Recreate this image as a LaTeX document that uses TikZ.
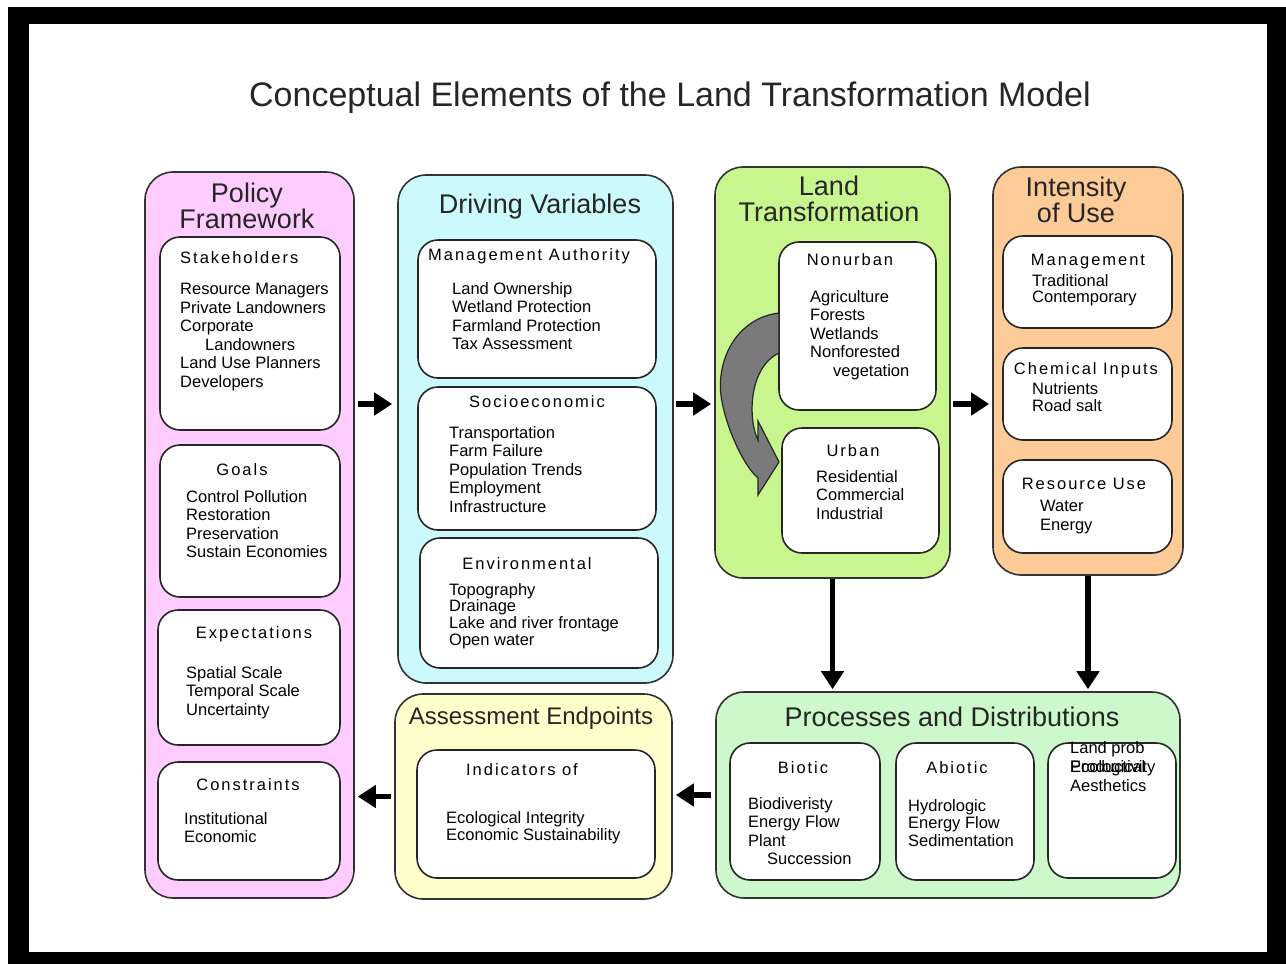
\documentclass[tikz,border=0pt]{standalone}
\usepackage{fontspec}
\setmainfont{Liberation Sans}
\newfontfamily\headfont{Liberation Sans}[LetterSpace=12]
\usetikzlibrary{arrows.meta}
\definecolor{policyfill}{HTML}{FFCCFF}
\definecolor{drivingfill}{HTML}{CCFAFC}
\definecolor{landfill}{HTML}{C8F58E}
\definecolor{intensityfill}{HTML}{FCCB98}
\definecolor{processfill}{HTML}{CCF8CC}
\definecolor{assessfill}{HTML}{FFFFCC}
\definecolor{turngray}{HTML}{7A7A7A}
\begin{document}
\begin{tikzpicture}[x=1pt,y=-1pt,
  outerbox/.style={draw=black!80, line width=1.6pt, rounded corners=28pt, inner sep=0pt},
  innerbox/.style={draw=black!85, fill=white, line width=1.6pt, rounded corners=20pt, inner sep=0pt},
  boxtitle/.style={font=\fontsize{27}{23}\selectfont, text=black!85, align=center, inner sep=0pt},
  head/.style={font=\headfont\fontsize{16.5}{18.5}\selectfont, inner sep=0pt},
  items/.style={font=\fontsize{16.5}{18.6}\selectfont, align=left, anchor=north west, inner sep=0pt},
  flow/.style={line width=5.5pt, -{Triangle[length=18pt,width=22pt]}},
]
% page and black frame
\useasboundingbox (0,0) rectangle (1286,964);
\fill[white] (0,0) rectangle (1286,964);
\fill[black] (8,7) rectangle (1286,964);
\fill[white] (29,24) rectangle (1267,952);

% heading
\node[font=\fontsize{34}{40}\selectfont, text=black!85, inner sep=0pt] (maintitle) at (670,98)
  {Conceptual Elements of the Land Transformation Model};

% outer panels
\node[outerbox, fill=policyfill, minimum width=209, minimum height=726] (pf) at (249.5,535) {};
\node[outerbox, fill=drivingfill, minimum width=275, minimum height=508] (dv) at (535.5,429) {};
\node[outerbox, fill=landfill, minimum width=235, minimum height=411] (lt) at (832.5,372.5) {};
\node[outerbox, fill=intensityfill, minimum width=190, minimum height=408] (iu) at (1088,371) {};
\node[outerbox, fill=processfill, minimum width=464, minimum height=206] (pd) at (948,795) {};
\node[outerbox, fill=assessfill, minimum width=277, minimum height=205] (ae) at (533.5,796.5) {};

% panel titles
\node[boxtitle] (pftitle) at (247,206) {Policy\\Framework};
\node[boxtitle] (dvtitle) at (540,207) {Driving Variables};
\node[boxtitle, font=\fontsize{27}{26}\selectfont] (lttitle) at (829,199) {Land\\Transformation};
\node[boxtitle] (iutitle) at (1076,200) {Intensity\\of Use};
\node[boxtitle] (pdtitle) at (952,717) {Processes and Distributions};
\node[boxtitle, font=\fontsize{24}{26}\selectfont] (aetitle) at (531,718) {Assessment Endpoints};

% inner boxes
\node[innerbox, minimum width=180, minimum height=193] (stake) at (250,333.5) {};
\node[innerbox, minimum width=180, minimum height=152] (goals) at (250,521) {};
\node[innerbox, minimum width=182, minimum height=135] (expect) at (249,677.5) {};
\node[innerbox, minimum width=182, minimum height=118] (constr) at (249,821) {};
\node[innerbox, minimum width=238, minimum height=138] (mgmt) at (537,309) {};
\node[innerbox, minimum width=238, minimum height=143] (socio) at (537,458.5) {};
\node[innerbox, minimum width=238, minimum height=130] (envir) at (539,603) {};
\node[innerbox, minimum width=157, minimum height=168] (nonurb) at (857.5,326) {};
\node[innerbox, minimum width=157, minimum height=125] (urban) at (860.5,490.5) {};
\node[innerbox, minimum width=169, minimum height=92] (imgmt) at (1087.5,282) {};
\node[innerbox, minimum width=169, minimum height=92] (chem) at (1087.5,394) {};
\node[innerbox, minimum width=169, minimum height=93] (resuse) at (1087.5,506.5) {};
\node[innerbox, minimum width=150, minimum height=137] (biotic) at (805,811.5) {};
\node[innerbox, minimum width=138, minimum height=137] (abiotic) at (965,811.5) {};
\node[innerbox, minimum width=128, minimum height=135] (other) at (1112,810.5) {};
\node[innerbox, minimum width=238, minimum height=128] (indic) at (536,814) {};

% Policy Framework contents
\node[head, anchor=west] (stakehead) at (180,258) {Stakeholders};
\node[items] (stakeitems) at (180,283) {Resource Managers\\Private Landowners\\Corporate\\\hspace*{25pt}Landowners\\Land Use Planners\\Developers};
\node[head] (goalshead) at (242,470) {Goals};
\node[items] (goalsitems) at (186,490) {Control Pollution\\Restoration\\Preservation\\Sustain Economies};
\node[head] (expecthead) at (254,634) {Expectations};
\node[items] (expectitems) at (186,666) {Spatial Scale\\Temporal Scale\\Uncertainty};
\node[head] (constrhead) at (248,785) {Constraints};
\node[items] (constritems) at (184,812) {Institutional\\Economic};

% Driving Variables contents
\node[head, anchor=west] (mgmthead) at (428,256) {Management Authority};
\node[items] (mgmtitems) at (452,282) {Land Ownership\\Wetland Protection\\Farmland Protection\\Tax Assessment};
\node[head] (sociohead) at (537,402) {Socioeconomic};
\node[items] (socioitems) at (449,426) {Transportation\\Farm Failure\\Population Trends\\Employment\\Infrastructure};
\node[head] (envirhead) at (527,564) {Environmental};
\node[items, font=\fontsize{16.5}{16.7}\selectfont] (enviritems) at (449,583) {Topography\\Drainage\\Lake and river frontage\\Open water};

% Land Transformation contents
\node[head] (nonurbhead) at (850,260) {Nonurban};
\node[items] (nonurbitems) at (810,290) {Agriculture\\Forests\\Wetlands\\Nonforested\\\hspace*{23pt}vegetation};
\node[head] (urbanhead) at (853,451) {Urban};
\node[items] (urbanitems) at (816,470) {Residential\\Commercial\\Industrial};

% conversion from nonurban to urban land
\filldraw[fill=turngray, draw=black!85, line width=1.2pt]
  (779,313) .. controls (736,318) and (714,362) .. (722,402)
  .. controls (728,432) and (744,466) .. (758,478)
  -- (758,495) -- (779,462) -- (758,421) -- (758,440)
  .. controls (748,420) and (748,368) .. (779,353) -- cycle;

% Intensity of Use contents
\node[head] (imgmthead) at (1088,262) {Management};
\node[items, font=\fontsize{16.5}{16.5}\selectfont] (imgmtitems) at (1032,274) {Traditional\\Contemporary};
\node[head] (chemhead) at (1086,370) {Chemical Inputs};
\node[items, font=\fontsize{16.5}{17}\selectfont] (chemitems) at (1032,382) {Nutrients\\Road salt};
\node[head] (resusehead) at (1084,484) {Resource Use};
\node[items] (resuseitems) at (1040,500) {Water\\Energy};

% Processes and Distributions contents
\node[head] (biotichead) at (803,768) {Biotic};
\node[items] (bioticitems) at (748,797) {Biodiveristy\\Energy Flow\\Plant\\\hspace*{19pt}Succession};
\node[head] (abiotichead) at (957,768) {Abiotic};
\node[items, font=\fontsize{16.5}{17.5}\selectfont] (abioticitems) at (908,799) {Hydrologic\\Energy Flow\\Sedimentation};
\node[items] (otherA) at (1070,741) {Land prob};
\node[items] (otherB) at (1070,760) {Productivity};
\node[items] (otherC) at (1070,760) {Ecological};
\node[items] (otherD) at (1070,779) {Aesthetics};

% Assessment Endpoints contents
\node[head] (indichead) at (522,770) {Indicators of};
\node[items, font=\fontsize{16.5}{17}\selectfont] (indicitems) at (446,811) {Ecological Integrity\\Economic Sustainability};

% flow between panels
\coordinate (row) at (0,404);
\draw[flow, shorten <=3pt, shorten >=5pt] (pf.east |- row) -- (dv.west |- row);
\draw[flow, shorten <=2pt, shorten >=3pt] (dv.east |- row) -- (lt.west |- row);
\draw[flow, shorten <=2pt, shorten >=3pt] (lt.east |- row) -- (iu.west |- row);
\draw[flow, shorten >=2pt] (lt.south) -- (lt.south |- pd.north);
\draw[flow, shorten >=2pt] (iu.south) -- (iu.south |- pd.north);
\draw[flow, shorten <=4pt, shorten >=3pt] (pd.west) -- (pd.west -| ae.east);
\draw[flow, shorten <=3pt, shorten >=3pt] (ae.west) -- (ae.west -| pf.east);
\end{tikzpicture}
\end{document}
